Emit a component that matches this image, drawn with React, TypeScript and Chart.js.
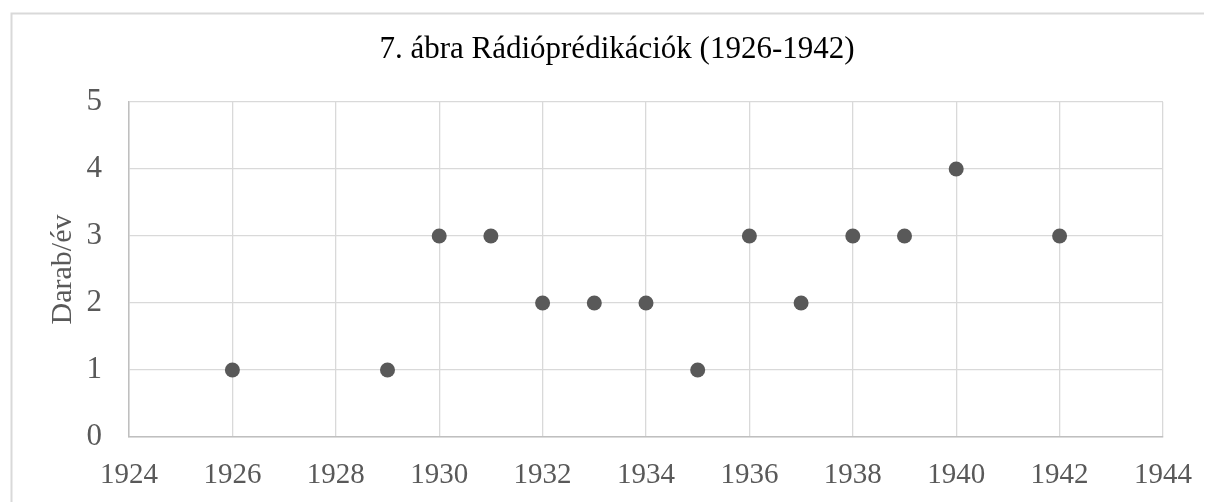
import React, { useEffect, useRef } from "react";
import { Chart, registerables } from "chart.js";

Chart.register(...registerables);

const chartTitle = "7. ábra Rádióprédikációk (1926-1942)";
const yAxisTitle = "Darab/év";
const years = [1926, 1929, 1930, 1931, 1932, 1933, 1934, 1935, 1936, 1937, 1938, 1939, 1940, 1942];
const counts = [1, 1, 3, 3, 2, 2, 2, 1, 3, 2, 3, 3, 4, 3];
const xMin = 1924;
const xMax = 1944;
const xStep = 2;
const yMin = 0;
const yMax = 5;
const yStep = 1;

const FONT = "'Liberation Serif', 'Times New Roman', serif";

const decorPlugin = {
  id: "decor",
  beforeDraw(chart: any) {
    const ctx = chart.ctx;
    ctx.save();
    ctx.fillStyle = "#ffffff";
    ctx.fillRect(0, 0, chart.width, chart.height);
    ctx.strokeStyle = "#d9d9d9";
    ctx.lineWidth = 2;
    ctx.beginPath();
    ctx.moveTo(11.5, chart.height);
    ctx.lineTo(11.5, 13.5);
    ctx.lineTo(1204, 13.5);
    ctx.stroke();
    ctx.restore();
  },
  afterDraw(chart: any) {
    const ctx = chart.ctx;
    ctx.save();
    ctx.fillStyle = "#000000";
    ctx.font = `31px ${FONT}`;
    ctx.textAlign = "center";
    ctx.textBaseline = "middle";
    ctx.fillText(chartTitle, 617, 50);
    ctx.restore();
  },
};

export default function App() {
  const ref = useRef<HTMLCanvasElement | null>(null);

  useEffect(() => {
    if (!ref.current) return;
    const data = years.map((x, i) => ({ x, y: counts[i] }));
    const chart = new Chart(ref.current, {
      type: "scatter",
      data: {
        datasets: [
          {
            data,
            backgroundColor: "#595959",
            borderColor: "#595959",
            pointRadius: 7.5,
            pointHoverRadius: 7.5,
            borderWidth: 0,
          },
        ],
      },
      plugins: [decorPlugin],
      options: {
        animation: false,
        responsive: false,
        devicePixelRatio: 1,
        layout: { padding: { top: 102, left: 0, right: 47, bottom: 0 } },
        plugins: {
          legend: { display: false },
          tooltip: { enabled: false },
          title: { display: false },
        },
        scales: {
          x: {
            type: "linear",
            min: xMin,
            max: xMax,
            afterFit: (s: any) => {
              s.height = 65;
            },
            ticks: {
              stepSize: xStep,
              color: "#595959",
              font: { family: FONT, size: 29 },
              padding: 21,
              maxRotation: 0,
              callback: (v: any) => String(v),
            },
            grid: { color: "#d9d9d9", lineWidth: 1.3, drawTicks: false },
            border: { color: "#bfbfbf", width: 1.5 },
          },
          y: {
            type: "linear",
            min: yMin,
            max: yMax,
            afterFit: (s: any) => {
              s.width = 129;
            },
            ticks: {
              stepSize: yStep,
              color: "#595959",
              font: { family: FONT, size: 31 },
              padding: 27,
              callback: (v: any) => String(v),
            },
            grid: { color: "#d9d9d9", lineWidth: 1.3, drawTicks: false },
            border: { color: "#bfbfbf", width: 1.5 },
            title: {
              display: true,
              text: yAxisTitle,
              color: "#595959",
              font: { family: FONT, size: 30 },
              padding: { top: 45, bottom: 0 },
            },
          },
        },
      },
    });
    return () => chart.destroy();
  }, []);

  return (
    <div style={{ position: "fixed", left: 0, top: 0, width: 1213, height: 502, overflow: "hidden", background: "#fff" }}>
      <canvas ref={ref} width={1213} height={502} style={{ display: "block", width: 1213, height: 502 }} />
    </div>
  );
}
